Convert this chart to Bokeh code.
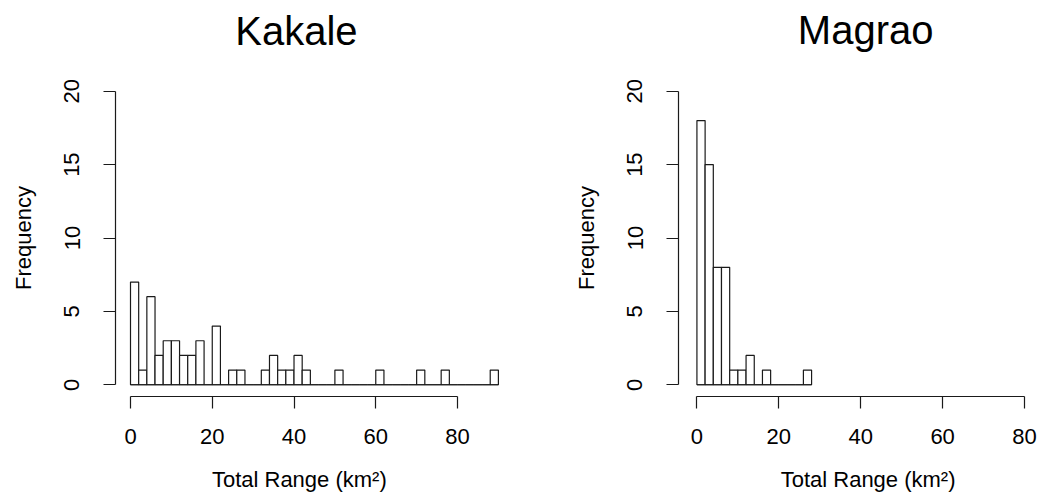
from bokeh.plotting import figure
from bokeh.layouts import row, column
from bokeh.models import Range1d, FixedTicker, ColumnDataSource
from bokeh.embed import file_html
from bokeh.resources import INLINE
from bokeh.core.properties import value

# ---- data ----
bin_width = 2
kakale_counts = [7, 1, 6, 2, 3, 3, 2, 2, 3, 0, 4, 0, 1, 1, 0, 0, 1, 2, 1, 1, 2, 1,
                 0, 0, 0, 1, 0, 0, 0, 0, 1, 0, 0, 0, 0, 1, 0, 0, 1, 0, 0, 0, 0, 0, 1]
magrao_counts = [18, 15, 8, 8, 1, 1, 2, 0, 1, 0, 0, 0, 0, 1]
x_ticks = [0, 20, 40, 60, 80]
y_ticks = [0, 5, 10, 15, 20]
titles = ["Kakale", "Magrao"]
x_label = "Total Range (km\u00b2)"
y_label = "Frequency"

FONT = "Liberation Sans"
INK = "#1a1a1a"
W = 520


def strip(x_range, border_left, height, text, text_x, text_y, size):
    s = figure(width=W, height=height, output_backend="svg", toolbar_location=None,
               title=None, x_range=x_range, y_range=Range1d(0, height),
               x_axis_location=None, y_axis_location=None,
               min_border_left=border_left, min_border_right=8,
               min_border_top=0, min_border_bottom=0)
    s.outline_line_color = None
    s.xgrid.visible = False
    s.ygrid.visible = False
    src = ColumnDataSource(dict(x=[text_x], y=[text_y], t=[text]))
    s.text(x="x", y="y", text="t", source=src, text_align="center",
           text_baseline="alphabetic", text_font=value(FONT),
           text_font_size=size, text_color="black")
    return s


def make_panel(counts, border_left, x_range):
    p = figure(width=W, height=391, output_backend="svg", toolbar_location=None,
               title=None, x_range=x_range, y_range=Range1d(-0.8, 20.8),
               min_border_left=border_left, min_border_right=8,
               min_border_top=10, min_border_bottom=64)
    p.outline_line_color = None
    p.xgrid.visible = False
    p.ygrid.visible = False
    p.background_fill_color = "white"
    p.border_fill_color = "white"

    edges = [i * bin_width for i in range(len(counts) + 1)]
    p.quad(left=edges[:-1], right=edges[1:], bottom=[0] * len(counts), top=counts,
           fill_color="white", line_color=INK, line_width=1.2)
    p.line(x=[edges[0], edges[-1]], y=[0, 0], line_color=INK, line_width=1.2)

    for ax, ticks in ((p.xaxis[0], x_ticks), (p.yaxis[0], y_ticks)):
        ax.ticker = FixedTicker(ticks=ticks, minor_ticks=[])
        ax.bounds = (ticks[0], ticks[-1])
        ax.major_tick_out = 12
        ax.major_tick_in = 0
        ax.minor_tick_line_color = None
        ax.axis_line_color = INK
        ax.major_tick_line_color = INK
        ax.axis_line_width = 1.2
        ax.major_tick_line_width = 1.2
        ax.major_label_text_font = FONT
        ax.major_label_text_font_size = "22px"
        ax.major_label_text_color = "black"
        ax.axis_label_text_font = FONT
        ax.axis_label_text_font_size = "22px"
        ax.axis_label_text_font_style = "normal"
        ax.axis_label_text_color = "black"

    p.xaxis[0].major_label_standoff = 20
    p.yaxis[0].axis_label = y_label
    p.yaxis[0].major_label_orientation = "vertical"
    p.yaxis[0].major_label_standoff = 24
    p.yaxis[0].axis_label_standoff = 26
    return p


xr1 = Range1d(-3.67, 93.45)
xr2 = Range1d(-4.5, 81.95)

t1 = strip(xr1, 115, 69, titles[0], 40.6, 39, "40px")
t2 = strip(xr2, 158, 69, titles[1], 41.2, 40, "40px")
p1 = make_panel(kakale_counts, 115, xr1)
p2 = make_panel(magrao_counts, 158, xr2)
b1 = strip(xr1, 115, 35, x_label, 41.3, 16, "22px")
b2 = strip(xr2, 158, 35, x_label, 41.8, 16, "22px")

layout = column(row(t1, t2), row(p1, p2), row(b1, b2))

open("out.html", "w").write(file_html(layout, INLINE))
